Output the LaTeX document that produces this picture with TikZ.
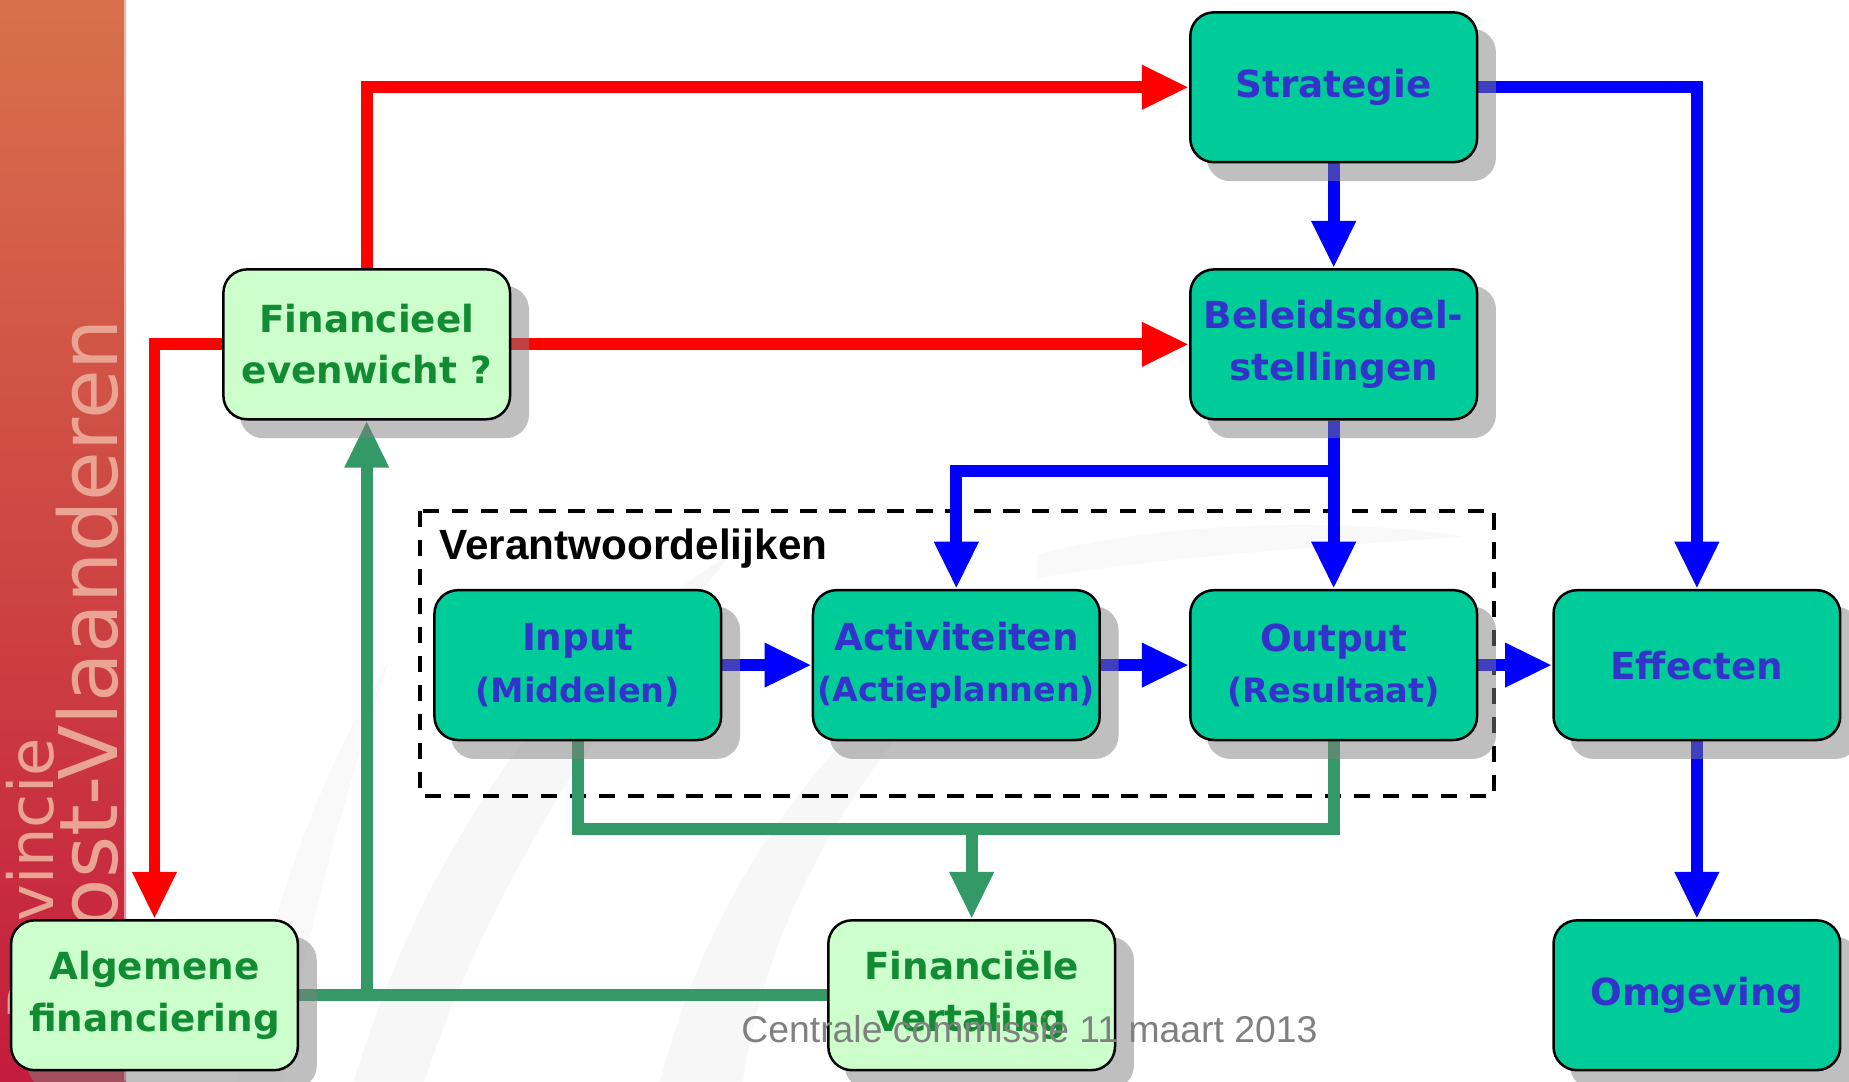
\documentclass[tikz,border=0pt]{standalone}
\usepackage{fontspec}
\setmainfont{DejaVu Sans}
\newfontfamily\arialf{Liberation Sans}
\usetikzlibrary{arrows.meta,calc}
\pgfdeclarelayer{bgl}\pgfdeclarelayer{lines}\pgfdeclarelayer{shad}
\pgfsetlayers{bgl,lines,shad,main}
\definecolor{boxteal}{HTML}{00CC99}
\definecolor{boxlight}{HTML}{CCFFCC}
\definecolor{txtblue}{HTML}{3333CC}
\definecolor{txtgreen}{HTML}{118C33}
\definecolor{lnred}{HTML}{FF0000}
\definecolor{lnblue}{HTML}{0000FF}
\definecolor{lngreen}{HTML}{339966}
\definecolor{sbtop}{HTML}{D8714B}
\definecolor{sbbot}{HTML}{C41C3C}
\definecolor{sbtext}{HTML}{E9A493}
\definecolor{footgray}{HTML}{808080}
\tikzset{
  box/.style={draw=black, line width=0.6pt, rounded corners=0.2cm,
    minimum width=2.43cm, minimum height=1.27cm, inner sep=0pt, align=center,
    font=\bfseries\fontsize{9}{12.4}\selectfont},
  dark/.style={box, fill=boxteal, text=txtblue},
  light/.style={box, fill=boxlight, text=txtgreen},
  conn/.style={line width=2.85pt, line join=miter},
  tip/.style={-{Triangle[length=0.4cm,width=0.35cm]}},
}
\newcommand{\subl}[1]{{\fontsize{8.1}{10}\selectfont #1}}
\begin{document}
\begin{tikzpicture}[x=0.01cm,y=-0.01cm]
\useasboundingbox (0,0) rectangle (1568,917);
\begin{pgfonlayer}{bgl}
\fill[white] (0,0) rectangle (1568,917);
% faint watermark swooshes
\fill[black!3] (300,917) .. controls (360,720) and (470,560) .. (620,470)
   .. controls (520,590) and (410,760) .. (360,917) -- cycle;
\fill[black!3] (560,917) .. controls (600,760) and (700,600) .. (880,500)
   .. controls (740,620) and (650,770) .. (630,917) -- cycle;
\fill[black!2.5] (880,470) .. controls (1000,440) and (1150,440) .. (1240,455)
   .. controls (1150,462) and (1000,470) .. (880,490) -- cycle;
\fill[black!2.5] (200,917) .. controls (230,760) and (280,640) .. (330,560)
   .. controls (300,650) and (260,780) .. (240,917) -- cycle;
% sidebar
\shade[top color=sbtop, bottom color=sbbot] (0,0) rectangle (107,917);
\fill[white,opacity=0.5] (105,0) rectangle (108,917);
\node[rotate=90, anchor=base west, inner sep=0pt, text=sbtext,
  font=\fontsize{19.5}{19.5}\selectfont] (ov) at (100,842) {Oost-Vlaanderen};
\node[rotate=90, anchor=base west, inner sep=0pt, text=sbtext,
  font=\fontsize{15}{15}\selectfont] (pv) at (45,866) {Provincie};
\end{pgfonlayer}

% nodes
\node[dark]  (strat) at (1131,74)  {\raisebox{-1pt}{Strategie}};
\node[dark]  (bel)   at (1131,292) {Beleidsdoel-\\stellingen};
\node[light] (fe)    at (311,292)  {Financieel\\evenwicht ?};
\node[dark]  (inp)   at (490,564)  {Input\\\subl{(Middelen)}};
\node[dark]  (act)   at (811,564)  {Activiteiten\\\subl{\resizebox{2.35cm}{!}{(Actieplannen)}}};
\node[dark]  (outp)  at (1131,564) {Output\\\subl{(Resultaat)}};
\node[dark]  (eff)   at (1439,564) {\raisebox{-1pt}{Effecten}};
\node[dark]  (omg)   at (1439,844) {\raisebox{-1pt}{Omgeving}};
\node[light] (alg)   at (131,844)  {Algemene\\financiering};
\node[light] (fin)   at (824,844)  {Financiële\\vertaling};

\node[anchor=west, inner sep=0pt, font=\arialf\bfseries\fontsize{10.2}{12}\selectfont]
  (ver) at (372,465) {Verantwoordelijken};

% shadows
\begin{pgfonlayer}{shad}
\foreach \n in {strat,bel,fe,inp,act,outp,eff,omg,alg,fin}{
  \fill[gray, opacity=0.5, rounded corners=0.2cm]
    ($(\n.north west)+(15,15)$) rectangle ($(\n.south east)+(15,15)$);
}
\end{pgfonlayer}

\begin{pgfonlayer}{lines}
% dashed group frame
\draw[black, line width=1pt, dash pattern=on 4pt off 3pt] (356,433) rectangle (1267,675);
% red
\draw[conn, lnred, tip] (fe.north) |- (strat.west);
\draw[conn, lnred, tip] (fe.east) -- (bel.west);
\draw[conn, lnred, tip] (fe.west) -| (alg.north);
% blue
\draw[conn, lnblue, tip] (strat.east) -| (eff.north);
\draw[conn, lnblue, tip] (strat.south) -- (bel.north);
\coordinate (bj) at ($(bel.south)+(0,43)$);
\draw[conn, lnblue, tip] (bel.south) -- (outp.north);
\draw[conn, lnblue, tip] (bj) -| (act.north);
\draw[conn, lnblue, tip] (inp.east) -- (act.west);
\draw[conn, lnblue, tip] (act.east) -- (outp.west);
\draw[conn, lnblue, tip] (outp.east) -- (eff.west);
\draw[conn, lnblue, tip] (eff.south) -- (omg.north);
% green
\coordinate (gj) at (824,703);
\draw[conn, lngreen] (inp.south) |- (gj) -| (outp.south);
\draw[conn, lngreen, tip] (gj) -- (fin.north);
\draw[conn, lngreen] (fin.west) -- (alg.east);
\coordinate (gk) at (fe.south |- fin.west);
\draw[conn, lngreen, tip] (gk) -- (fe.south);
\end{pgfonlayer}

% footer
\node[font=\arialf\fontsize{9}{11}\selectfont, text=footgray, inner sep=0pt]
  (foot) at (873,873) {Centrale commissie 11 maart 2013};
\end{tikzpicture}
\end{document}
